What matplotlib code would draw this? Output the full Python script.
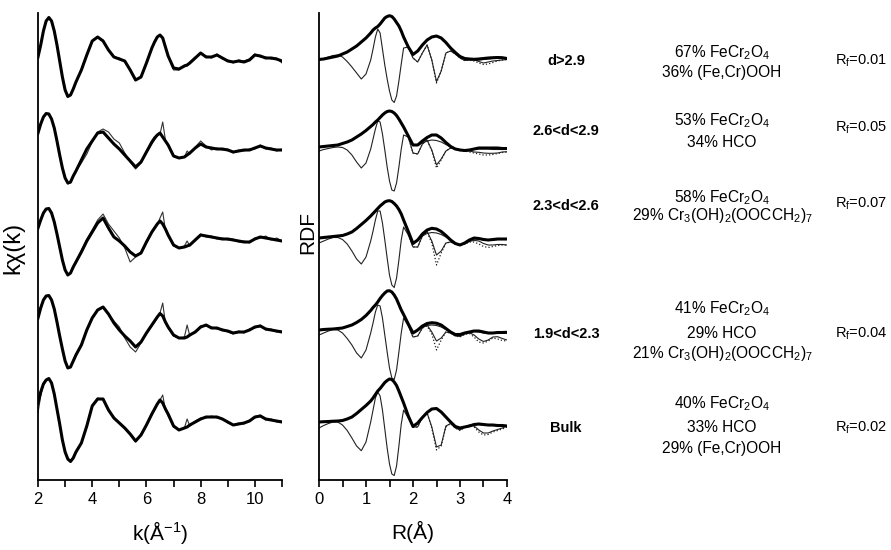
import numpy as np
import matplotlib
matplotlib.use('Agg')
import matplotlib.pyplot as plt

plt.rcParams['font.family'] = ['Liberation Sans', 'DejaVu Sans']
plt.rcParams['mathtext.fontset'] = 'custom'
plt.rcParams['mathtext.rm'] = 'Liberation Sans'
plt.rcParams['mathtext.it'] = 'Liberation Sans:italic'
plt.rcParams['mathtext.bf'] = 'Liberation Sans:bold'
plt.rcParams['mathtext.default'] = 'regular'

# ---- data (arbitrary units, one trace per sample) ----
samples = ['d>2.9', '2.6<d<2.9', '2.3<d<2.6', '1.9<d<2.3', 'Bulk']
rf_values = ['0.01', '0.05', '0.07', '0.04', '0.02']
compositions = [
    ['67% FeCr$_2$O$_4$', '36% (Fe,Cr)OOH'],
    ['53% FeCr$_2$O$_4$', '34% HCO'],
    ['58% FeCr$_2$O$_4$', '29% Cr$_3$(OH)$_2$(OOCCH$_2$)$_7$'],
    ['41% FeCr$_2$O$_4$', '29% HCO', '21% Cr$_3$(OH)$_2$(OOCCH$_2$)$_7$'],
    ['40% FeCr$_2$O$_4$', '33% HCO', '29% (Fe,Cr)OOH'],
]

k = [2.0, 2.1, 2.2, 2.3, 2.4, 2.5, 2.6, 2.7, 2.8, 2.9, 3.0, 3.1, 3.2, 3.3, 3.4,
     3.6, 3.8, 4.0, 4.2, 4.4, 4.6, 4.8, 5.0, 5.2, 5.4, 5.6, 5.8, 6.0, 6.2,
     6.3, 6.4, 6.5, 6.6, 6.7, 6.8,
     7.0, 7.2, 7.4, 7.5, 7.6,
     7.8, 8.0, 8.2, 8.4, 8.6, 8.8, 9.0, 9.2, 9.4, 9.6, 9.8, 10.0, 10.2, 10.4, 10.6, 10.8, 11.0]

# fitted k*chi(k) (thick) and measured (thin)
kchi_fit_1 = [3, 15, 29, 39, 42.5, 39, 29, 15, -1, -17, -30, -36.5, -35, -29, -22,
              -10, 5, 19, 23, 19, 10, 3, 1, -1, -10, -20, -17, -3, 12,
              18, 23, 25, 22, 13, 4,
              -8, -9, -6, -5, -3,
              2, 7, 3, 3, 5, 2, -1, -2, -1, -2, 0, 5, 4, 2, 2, 1, -1]
kchi_dat_1 = [3, 15, 29, 39, 42.5, 39, 29, 15, -1, -17, -30, -36.5, -35, -29, -22,
              -10, 5, 19, 23, 20, 10, 3, 2, -1, -10, -20, -17, -3, 12,
              18, 23, 25, 22, 13, 4,
              -10, -10, -5, -6, -2,
              3, 6, 4, 2, 6, 1, 0, -3, 0, -1, 1, 6, 3, 3, 1, 2, -3]
kchi_fit_2 = [17, 26, 33, 36.5, 36, 31, 22, 9, -5, -18, -28, -33, -32, -26, -21,
              -10, 1, 9, 17, 18, 12, 6, 1, -5, -11, -17, -12, -2, 8,
              12, 15, 17, 13, 9, 5,
              -6, -8, -7, -5, -3,
              2, 6, 3, 2, 1, 1, 0, -2, -1, 0, 0, 2, 4, 2, 1, 0, 0]
kchi_dat_2 = [17, 26, 33, 36.5, 36, 31, 22, 9, -5, -18, -28, -34, -33, -27, -21,
              -13, -4, 8, 18, 21, 18, 11, 7, -3, -12, -19, -13, -3, 6,
              10, 14, 16, 28, 10, 5,
              -6, -8, -7, -1, -4,
              3, 9, 4, 0, 2, 0, 1, -3, 0, -1, 1, 1, 5, 1, 2, -1, 1]
kchi_fit_3 = [12, 20, 27, 31, 31.5, 27, 18, 6, -7, -20, -30, -35, -33, -27, -22,
              -12, -1, 8, 17, 22, 12, 3, -1, -6, -12, -16, -13, -2, 8,
              12, 16, 19, 16, 11, 5,
              -5, -8, -7, -6, -5,
              0, 5, 4, 3, 2, 1, 1, 0, -1, -2, -2, 1, 3, 2, 1, 0, -1]
kchi_dat_3 = [12, 20, 27, 31, 31.5, 27, 18, 6, -7, -20, -30, -35, -33, -28, -21,
              -10, 1, 10, 20, 26, 16, 9, 2, -8, -22, -17, -12, -3, 7,
              11, 15, 22, 28, 10, 4,
              -6, -8, -6, -1, -6,
              1, 6, 3, 4, 1, 2, 0, 1, -2, -1, -3, 2, 2, 4, 0, 2, -1]
kchi_fit_4 = [14, 24, 32, 36, 36.5, 32, 23, 10, -4, -17, -29, -36, -35, -29, -23,
              -13, 2, 14, 22, 25, 18, 9, 2, -4, -9, -15, -10, -1, 7,
              11, 15, 18.5, 16, 10, 5,
              -3, -6, -6, -5, -3,
              0, 5, 7, 4, 4, 2, 1, -1, 0, 0, 2, 5, 6, 3, 2, 1, 0]
kchi_dat_4 = [18, 26, 32, 36, 36.5, 32, 23, 10, -4, -17, -29, -36, -35, -28, -22,
              -12, 3, 15, 22, 24, 17, 11, 5, -6, -15, -20, -11, -2, 6,
              10, 14, 19, 29, 9, 4,
              -4, -6, -5, 7, -4,
              1, 6, 6, 5, 3, 3, 0, -2, 1, -1, 3, 4, 7, 2, 3, 0, 1]
kchi_fit_5 = [19, 30, 38, 42, 43.5, 39, 28, 13, -2, -18, -30, -37, -39.5, -36, -30,
              -21, -4, 16, 23, 23, 12, 4, -1, -6, -12, -19, -13, -3, 8,
              13, 18, 22, 19, 13, 8,
              -4, -8, -6, -5, -3,
              0, 3, 5, 5, 5, 3, 0, -3, -2, -1, 1, 5, 6, 3, 2, 1, 0]
kchi_dat_5 = [9, 26, 37, 42, 43.5, 39, 28, 13, -2, -18, -30, -38, -39, -36, -30,
              -21, -4, 17, 24, 22, 13, 4, -1, -7, -13, -20, -12, -3, 7,
              12, 17, 22, 27, 12, 6,
              -5, -8, -6, 3, -4,
              1, 4, 4, 6, 4, 3, -1, -3, -1, -2, 2, 4, 7, 2, 3, 0, 1]

r = [0.0, 0.1, 0.2, 0.3, 0.4, 0.5, 0.6, 0.7, 0.8, 0.9, 1.0, 1.1,
     1.15, 1.2, 1.25, 1.3, 1.35, 1.4, 1.45, 1.5, 1.55, 1.6, 1.65, 1.7, 1.75, 1.8,
     1.9, 2.0, 2.1, 2.2, 2.3, 2.4, 2.5, 2.6, 2.7, 2.8, 2.9, 3.0, 3.1, 3.2, 3.3,
     3.4, 3.5, 3.6, 3.7, 3.8, 3.9, 4.0]

# RDF magnitude (thick) and imaginary part (thin)
mag_1 = [0.5, 1, 2, 3, 4, 6, 8, 11, 14, 18, 22, 27,
         30, 32, 33.5, 36, 39, 42, 43.5, 44.3, 43.5, 41, 37.5, 34, 29, 23,
         13, 5.5, 9, 15, 20, 23, 24, 22, 17.5, 12, 7.5, 3.5, 1.5, 1, 0.7, 1, 1.5, 2, 2.3, 2.5, 2.3, 1.5]
img_1 = [0.5, 1.5, 3, 4.5, 5, 3, -1.5, -7, -13, -19, -14, 0,
         11, 23, 31, 27, 11, -5, -19, -31, -40, -42.5, -36, -21, -4, 12,
         13, 2, -2, 7, 15, 0, -21.5, -11, 7, 9, 6, 2, -0.5, 0, 0.5, -1.5, -3, -2, -1, -0.5, 0, 0.5]
mag_2 = [0, 0.5, 1, 1.5, 2, 3.5, 5, 7, 10, 13, 16.5, 20.5,
         22.5, 25, 27, 29.5, 32, 34, 35.5, 36, 35.5, 34, 31.5, 28, 24, 20,
         11, 2, 2, 6, 9.5, 12, 12, 9, 4.5, 0.5, -2, -3, -3.5, -3, -2, -1, -1, -1, -1, -1, -1.5, -1.5]
img_2 = [-4, -2.5, -1.5, -0.5, 0, -0.5, -3, -8, -15, -21, -16, -2,
         8, 18, 26, 25, 13, -3, -20, -34, -43, -44, -36, -20, -2, 12,
         10, -6, -7, 3, 7, -3, -18, -12, -4, -1, -1.5, -3, -3.7, -4, -5, -5.3, -6, -6.3, -6.3, -6, -5, -4.7]
mag_3 = [0, 0.5, 1, 1.5, 2, 2.5, 4, 6, 9.5, 13.5, 17.5, 22,
         24.5, 27, 29.5, 32, 34, 36, 37, 37.3, 36.5, 34.5, 32, 28.5, 24, 18,
         6.5, -5.5, -2, 4, 8, 9.7, 9, 6.5, 2.5, -2, -5.5, -7, -5, -2, 0, -0.5, -1.5, -2, -1.5, -1, -1, -1]
img_3 = [-5, -3, -1, 0.5, 0.5, -1.5, -6, -13, -21, -26, -19, -3,
         7, 18, 27, 27, 15, -2, -20, -37, -47, -49.5, -40, -22, -2, 11,
         3, -9, -9, 2, 6.5, -3, -17, -13, -5, -4, -6, -7, -6, -3.5, -2.3, -3, -5.5, -7, -7, -6.5, -6.5, -7]
mag_4 = [0, 0.5, 0.8, 1, 1.5, 2, 3.5, 5, 7.5, 10.5, 14.5, 19.5,
         22.5, 25, 28, 31.5, 34.5, 37, 39, 39.3, 38, 35, 31, 25.5, 20, 15.5,
         6, -3, 0, 4, 6.5, 7.3, 6.8, 5, 1.5, -2, -4.5, -4.5, -3, -2, -1, -1, -2, -3, -3, -2.5, -2.5, -2.3]
img_4 = [-5, -3, -1, 0.5, 0, -3, -8.5, -15, -23, -28, -20, -3,
         7, 18, 25, 24, 12, -5, -22, -38, -48, -49.5, -40, -22, -3, 12,
         4, -7, -6, 2, 5, -2, -11, -8, -2, -3, -6, -6.5, -4, -2.7, -5, -9, -11.5, -10, -7, -6.7, -8.5, -10]
mag_5 = [0, 0.3, 0.5, 0.8, 1, 1.5, 3, 5, 8.5, 12.5, 16.5, 21,
         24, 27.5, 31, 33.5, 36.5, 39.5, 41.5, 43, 42.5, 40, 36.5, 31, 25, 19,
         6, -4.5, -1, 4.5, 9.5, 13, 13.5, 10, 5, 0, -4.5, -6, -5, -4, -2.5, -2, -2.5, -3, -3, -3.5, -3.5, -4]
img_5 = [-6, -3.5, -1.5, 0, 0, -3, -8.5, -16, -24, -28.7, -20, 0,
         12, 24, 30, 26, 12, -7, -26, -42, -52, -53.5, -44, -24, -2, 12,
         4, -5, -5, 5, 9, -5, -25, -23, -4, -1.5, -6, -8, -5, -3, -4, -8, -11, -11, -9, -7.5, -6, -4]

# fits in R space, visible only beyond the first shell
r_fit = [1.9, 2.0, 2.1, 2.2, 2.3, 2.4, 2.5, 2.6, 2.7, 2.8, 2.9, 3.0, 3.1, 3.2, 3.3,
         3.4, 3.5, 3.6, 3.7, 3.8, 3.9, 4.0]
mag_fit_1 = [13, 5.5, 9, 15, 20, 23, 24, 22, 17.5, 12, 7.5, 3.5, 1.5, 0.5, 0, 0, 0.5, 1, 1.5, 2, 2, 1.5]
mag_fit_2 = [11, 2, 1.5, 4, 6, 7, 6.5, 5, 2.5, 0, -2, -3, -3.5, -3, -2.5, -2, -2, -2, -2.5, -2.5, -2.5, -2]
mag_fit_3 = [6.5, -5, -2.5, 2, 4.5, 5.5, 5, 3.5, 1, -2, -5, -6.5, -5, -2.5, -1, -1, -2, -2.5, -2, -1.5, -1.5, -1.5]
mag_fit_4 = [6, -3, -0.5, 3, 4.5, 5, 4.5, 3, 0.5, -2.5, -4.5, -4.5, -3, -2, -1.5, -2, -3, -3.5, -3.5, -3, -3, -3]
mag_fit_5 = [6, -4.5, -1, 4.5, 9.5, 13, 13.5, 10, 5, 0, -4.5, -6, -5, -4, -3, -2.5, -3, -3.5, -3.5, -4, -4, -4]
img_fit_1 = [13, 2, -2, 7, 15, 0, -23, -11, 7, 9, 6, 2, -0.5, 0, -1, -3, -4.5, -4, -2.5, -1, 0, 0.5]
img_fit_2 = [10, -6, -7, 3, 7, -4, -21, -13, -4, -1, -2, -3.5, -4, -5, -6, -7, -8, -8, -7.5, -6.5, -5.5, -5]
img_fit_3 = [3, -9, -9, 2, 6, -5, -27, -15, -5, -4, -6, -7.5, -6, -4, -4, -6, -8.5, -9.5, -8.5, -7.5, -7, -7]
img_fit_4 = [4, -7, -6, 2, 4, -4, -20, -10, -2, -3, -6, -7, -4.5, -3.5, -7, -12, -13, -11, -8, -9, -10.5, -11]
img_fit_5 = [4, -5, -5, 5, 9, -6, -28, -24, -5, -1.5, -6, -8.5, -5.5, -3.5, -5, -10, -13, -12.5, -10, -8.5, -7, -5]

kchi_fit = [kchi_fit_1, kchi_fit_2, kchi_fit_3, kchi_fit_4, kchi_fit_5]
kchi_dat = [kchi_dat_1, kchi_dat_2, kchi_dat_3, kchi_dat_4, kchi_dat_5]
mags = [mag_1, mag_2, mag_3, mag_4, mag_5]
imgs = [img_1, img_2, img_3, img_4, img_5]
mag_fits = [mag_fit_1, mag_fit_2, mag_fit_3, mag_fit_4, mag_fit_5]
img_fits = [img_fit_1, img_fit_2, img_fit_3, img_fit_4, img_fit_5]

# vertical stacking of the traces
k_offsets = [420, 330, 240, 148, 58]
r_offsets = [420, 333, 242, 150, 58]

W, H = 891, 550
fig = plt.figure(figsize=(W / 100, H / 100), dpi=100)


def px(x, y):
    return x / W, 1 - y / H


axk = fig.add_axes([38 / W, 70 / H, 244 / W, 467 / H])
axr = fig.add_axes([319 / W, 70 / H, 188 / W, 467 / H])

for i in range(5):
    axk.plot(k, np.array(kchi_dat[i]) + k_offsets[i], color='#333333', lw=0.8)
    axk.plot(k, np.array(kchi_fit[i]) + k_offsets[i], color='black', lw=2.2,
             solid_joinstyle='round')

    axr.plot(r, np.array(imgs[i]) + r_offsets[i], color='#222222', lw=0.8)
    axr.plot(r_fit, np.array(img_fits[i]) + r_offsets[i], color='#222222', lw=0.9, ls=':')
    axr.plot(r_fit, np.array(mag_fits[i]) + r_offsets[i], color='#222222', lw=0.8)
    axr.plot(r, np.array(mags[i]) + r_offsets[i], color='black', lw=2.2,
             solid_joinstyle='round')

for ax in (axk, axr):
    ax.set_ylim(0, 467)
    ax.spines['top'].set_visible(False)
    ax.spines['right'].set_visible(False)
    ax.spines['left'].set_linewidth(1.3)
    ax.spines['bottom'].set_linewidth(1.3)
    ax.set_yticks([])
    ax.tick_params(axis='x', which='both', direction='out', width=1.2, labelsize=12)
    ax.tick_params(axis='x', which='major', length=5, pad=4)
    ax.tick_params(axis='x', which='minor', length=5)

axk.set_xlim(2, 11)
axk.set_xticks([2, 4, 6, 8, 10])
axk.set_xticks([3, 5, 7, 9, 11], minor=True)
axr.set_xlim(0, 4)
axr.set_xticks([0, 1, 2, 3, 4])
axr.set_xticks([0.5, 1.5, 2.5, 3.5], minor=True)

# axis titles
fig.text(*px(160, 532), 'k(Å$^{-1}$)', fontsize=15, ha='center', va='center')
fig.text(*px(413, 532), 'R(Å)', fontsize=15, ha='center', va='center')
fig.text(*px(13, 248), 'kχ(k)', fontsize=17, rotation=90, ha='center', va='center')
fig.text(*px(308, 232), 'RDF', fontsize=15, rotation=90, ha='center', va='center')

# right hand annotations
label_y = [60, 130, 205, 333, 427]
rf_y = [60, 127, 203, 333, 427]
comp_y = [[52, 72], [120, 142], [197, 215], [308, 333, 353], [403, 427, 448]]
for i in range(5):
    fig.text(*px(566, label_y[i] + 5), samples[i], fontsize=10.5, fontweight='bold',
             ha='center', va='baseline')
    fig.text(*px(835, rf_y[i] + 5), 'R$_f$=' + rf_values[i], fontsize=10.5,
             ha='left', va='baseline')
    for line, yy in zip(compositions[i], comp_y[i]):
        fig.text(*px(722, yy + 5), line, fontsize=11.2, ha='center', va='baseline')

fig.savefig('out.png', dpi=100)
